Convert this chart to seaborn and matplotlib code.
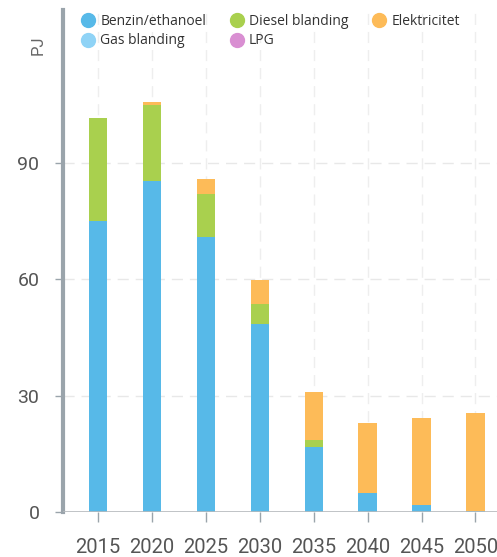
import numpy as np
import pandas as pd
import seaborn as sns
from matplotlib import pyplot as plt
from matplotlib.lines import Line2D

# data (PJ)
years = ["2015", "2020", "2025", "2030", "2035", "2040", "2045", "2050"]
benzin = [75.0, 85.4, 71.0, 48.5, 16.8, 4.8, 1.8, 0.2]
diesel = [26.6, 19.6, 11.0, 5.1, 1.8, 0.0, 0.0, 0.0]
gas = [0, 0, 0, 0, 0, 0, 0, 0]
lpg = [0, 0, 0, 0, 0, 0, 0, 0]
elektricitet = [0.0, 0.8, 4.0, 6.2, 12.4, 18.2, 22.5, 25.3]

colors = {"Benzin/ethanoel": "#57b9e8", "Diesel blanding": "#a9d04e",
          "Elektricitet": "#fdbb58", "Gas blanding": "#8fd3f6", "LPG": "#d98fd2"}

df = pd.DataFrame({"year": years, "Benzin/ethanoel": benzin,
                   "Diesel blanding": diesel, "Gas blanding": gas,
                   "LPG": lpg, "Elektricitet": elektricitet})

# stack order bottom -> top
stack = ["Benzin/ethanoel", "Diesel blanding", "Gas blanding", "LPG", "Elektricitet"]
cum = df[stack].cumsum(axis=1)

sns.set_style("white")
plt.rcParams["font.family"] = ["Roboto", "DejaVu Sans"]

fig = plt.figure(figsize=(4.97, 5.57), dpi=100)
ax = fig.add_axes([63 / 497, 45 / 557, 1 - 63 / 497, 502 / 557])

# draw cumulative tops from the top layer down
for name in reversed(stack):
    sns.barplot(x=df["year"], y=cum[name], color=colors[name], width=0.34,
                saturation=1, ax=ax, zorder=3, linewidth=0)

ax.set_xlim(-0.65, 7.40)
ax.set_ylim(0, 129.5)
ax.set_yticks([0, 30, 60, 90])
ax.set_xlabel("")
ax.set_ylabel("")

for y in [30, 60, 90]:
    ax.axhline(y, color="#e8e8e8", lw=1, ls=(0, (8, 5)), zorder=1)
for x in range(len(years)):
    ax.axvline(x, color="#eeeeee", lw=1, ls=(0, (8, 5)), zorder=1)
ax.axhline(0, color="#b5b9bc", lw=1.2, zorder=4)

for s in ["top", "right", "bottom"]:
    ax.spines[s].set_visible(False)
ax.spines["left"].set_color("#9aa4ab")
ax.spines["left"].set_linewidth(3)

ax.tick_params(axis="y", direction="out", length=6, width=1, color="#9aa4ab",
               labelsize=14, labelcolor="#555555", pad=11, left=True)
ax.tick_params(axis="x", direction="out", length=7, width=1, color="#9aa4ab",
               labelsize=14.5, labelcolor="#555555", pad=12, bottom=True)

ax.text(-0.058, 0.93, "PJ", transform=ax.transAxes, rotation=90,
        ha="center", va="center", fontsize=12, color="#666666")

# legend filled row by row like the reference (matplotlib fills by column)
leg_order = ["Benzin/ethanoel", "Gas blanding", "Diesel blanding", "LPG", "Elektricitet"]
handles = [Line2D([], [], marker="o", ls="", markersize=10, color=colors[n]) for n in leg_order]
leg = ax.legend(handles, leg_order, ncol=3, loc="upper left", bbox_to_anchor=(0.012, 1.004),
                frameon=False, fontsize=10, handletextpad=-0.1, columnspacing=1.2,
                labelspacing=0.35, borderaxespad=0)
for t in leg.get_texts():
    t.set_color("#333333")
    t.set_family(["Open Sans", "DejaVu Sans"])

fig.savefig("out.png", dpi=100)
